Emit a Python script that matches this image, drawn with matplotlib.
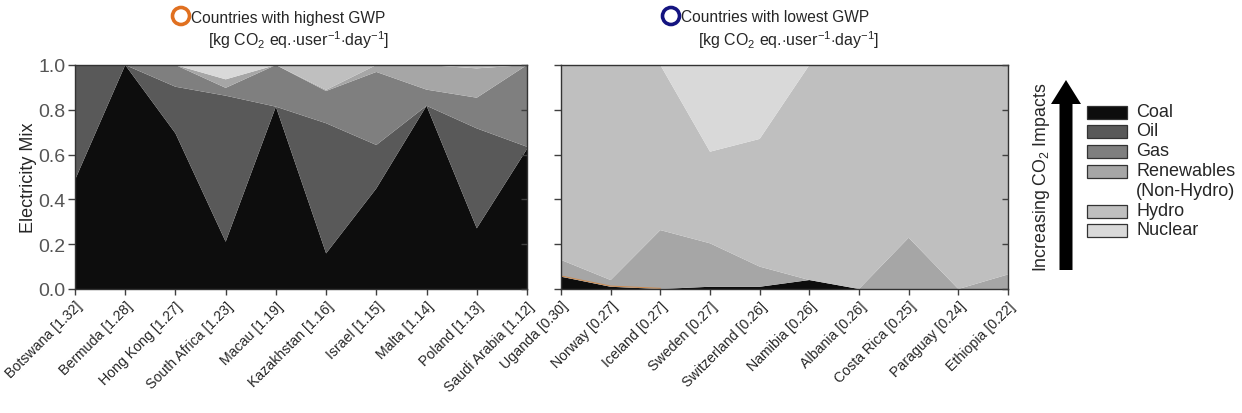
import matplotlib
matplotlib.use("Agg")
import matplotlib.pyplot as plt
import numpy as np
from matplotlib.patches import FancyArrow, Rectangle

plt.rcParams["font.family"] = ["Liberation Sans", "DejaVu Sans"]
plt.rcParams["mathtext.fontset"] = "custom"
plt.rcParams["mathtext.rm"] = "Liberation Sans"
plt.rcParams["mathtext.it"] = "Liberation Sans:italic"

# ---- data -------------------------------------------------------------
sources = ["Coal", "Oil", "Gas", "Renewables\n(Non-Hydro)", "Hydro", "Nuclear"]
colors = ["#0d0d0d", "#595959", "#7f7f7f", "#a6a6a6", "#bfbfbf", "#d9d9d9"]

high_countries = ["Botswana", "Bermuda", "Hong Kong", "South Africa", "Macau",
                  "Kazakhstan", "Israel", "Malta", "Poland", "Saudi Arabia"]
high_gwp = [1.32, 1.28, 1.27, 1.23, 1.19, 1.16, 1.15, 1.14, 1.13, 1.12]
high_coal = [0.487, 1.000, 0.695, 0.211, 0.814, 0.159, 0.449, 0.818, 0.271, 0.625]
high_oil = [0.513, 0.000, 0.208, 0.652, 0.000, 0.581, 0.194, 0.000, 0.446, 0.010]
high_gas = [0.000, 0.000, 0.097, 0.035, 0.186, 0.144, 0.326, 0.072, 0.137, 0.365]
high_ren = [0.000, 0.000, 0.000, 0.038, 0.000, 0.005, 0.031, 0.110, 0.131, 0.000]
high_hydro = [0.000, 0.000, 0.000, 0.000, 0.000, 0.111, 0.000, 0.000, 0.015, 0.000]
high_nuc = [0.000, 0.000, 0.000, 0.064, 0.000, 0.000, 0.000, 0.000, 0.000, 0.000]

low_countries = ["Uganda", "Norway", "Iceland", "Sweden", "Switzerland",
                 "Namibia", "Albania", "Costa Rica", "Paraguay", "Ethiopia"]
low_gwp = [0.30, 0.27, 0.27, 0.27, 0.26, 0.26, 0.26, 0.25, 0.24, 0.22]
low_coal = [0.055, 0.010, 0.000, 0.010, 0.010, 0.040, 0.000, 0.000, 0.000, 0.000]
low_oil = [0.000, 0.000, 0.000, 0.000, 0.000, 0.000, 0.000, 0.000, 0.000, 0.000]
low_gas = [0.000, 0.000, 0.000, 0.000, 0.000, 0.000, 0.000, 0.000, 0.000, 0.000]
low_ren = [0.075, 0.030, 0.263, 0.194, 0.090, 0.000, 0.000, 0.229, 0.000, 0.065]
low_hydro = [0.870, 0.960, 0.737, 0.409, 0.570, 0.960, 1.000, 0.771, 1.000, 0.935]
low_nuc = [0.000, 0.000, 0.000, 0.387, 0.330, 0.000, 0.000, 0.000, 0.000, 0.000]

W, H = 1242, 414
fig = plt.figure(figsize=(W / 100, H / 100), dpi=100)

TXT = "#262626"
TICK = "#404040"


def frac(x0, y0, x1, y1):
    return [x0 / W, 1 - y1 / H, (x1 - x0) / W, (y1 - y0) / H]


def panel(rect, names, gwp, layers, ylabels):
    ax = fig.add_axes(rect)
    x = np.arange(len(names))
    ax.stackplot(x, *layers, colors=colors, linewidth=0)
    ax.set_xlim(0, len(names) - 1)
    ax.set_ylim(0, 1)
    ax.set_xticks(x)
    ax.set_xticklabels([f"{n} [{g:.2f}]" for n, g in zip(names, gwp)],
                       rotation=45, ha="right", rotation_mode="anchor",
                       fontsize=10.2, color=TXT)
    ax.set_yticks(np.arange(0, 1.01, 0.2))
    if ylabels:
        ax.set_yticklabels([f"{v:.1f}" for v in np.arange(0, 1.01, 0.2)],
                           fontsize=14, color="#555555")
        ax.set_ylabel("Electricity Mix", fontsize=13, color=TXT, labelpad=1)
    else:
        ax.set_yticklabels([])
    ax.tick_params(axis="y", direction="out", length=5, width=1, color=TICK, pad=2)
    ax.tick_params(axis="x", direction="out", length=4, width=1, color=TICK, pad=3)
    for s in ax.spines.values():
        s.set_color("#333333")
        s.set_linewidth(1)
    ax2 = ax.twinx()
    ax2.set_ylim(0, 1)
    ax2.set_yticks(np.arange(0, 1.01, 0.2))
    ax2.set_yticklabels([])
    ax2.tick_params(axis="y", direction="in", length=4, width=1, color=TICK)
    for s in ax2.spines.values():
        s.set_visible(False)
    return ax, x


ax_hi, xh = panel(frac(75, 66, 527, 290), high_countries, high_gwp,
                  [high_coal, high_oil, high_gas, high_ren, high_hydro, high_nuc], True)
ax_lo, xl = panel(frac(561, 66, 1008, 290), low_countries, low_gwp,
                  [low_coal, low_oil, low_gas, low_ren, low_hydro, low_nuc], False)
# thin orange edge along the coal boundary at the left of the low panel
ax_lo.plot(xl[:3], np.array(low_coal[:3]) + 0.003, color="#e0802a", lw=0.7, alpha=0.7)

# ---- overlay for titles and legend (pixel coordinates) -----------------
ov = fig.add_axes([0, 0, 1, 1], zorder=5)
ov.set_xlim(0, W)
ov.set_ylim(H, 0)
ov.axis("off")

unit = r"[kg CO$_2$ eq.$\cdot$user$^{-1}$$\cdot$day$^{-1}$]"
for cx, ring, title in [(181, "#e07020", "Countries with highest GWP"),
                        (671, "#141480", "Countries with lowest GWP")]:
    ov.scatter([cx], [17], s=150, facecolors="none", edgecolors=ring, linewidths=2.6)
    ov.text(cx + 10, 18, title, fontsize=11.2, color=TXT, va="center", ha="left")
    ov.text(cx + 118, 40, unit, fontsize=11.5, color=TXT, va="center", ha="center")

# arrow of increasing impact
ov.add_patch(FancyArrow(1066, 271, 0, -190, width=13, head_width=30,
                        head_length=24, length_includes_head=True,
                        color="black", lw=0))
ov.text(1042, 177, r"Increasing CO$_2$ Impacts", rotation=90, fontsize=12.8,
        color=TXT, va="center", ha="center")

legend_y = [113, 132, 152, 172, 212, 231]
for ly, name, col in zip(legend_y, sources, colors):
    ov.add_patch(Rectangle((1087, ly - 6.5), 40, 13, facecolor=col,
                           edgecolor="#333333", lw=0.9))
    lines = name.split("\n")
    for k, line in enumerate(lines):
        ov.text(1136, ly + 20 * k, line, fontsize=13, color=TXT,
                va="center", ha="left")

fig.savefig("out.png", dpi=100)
